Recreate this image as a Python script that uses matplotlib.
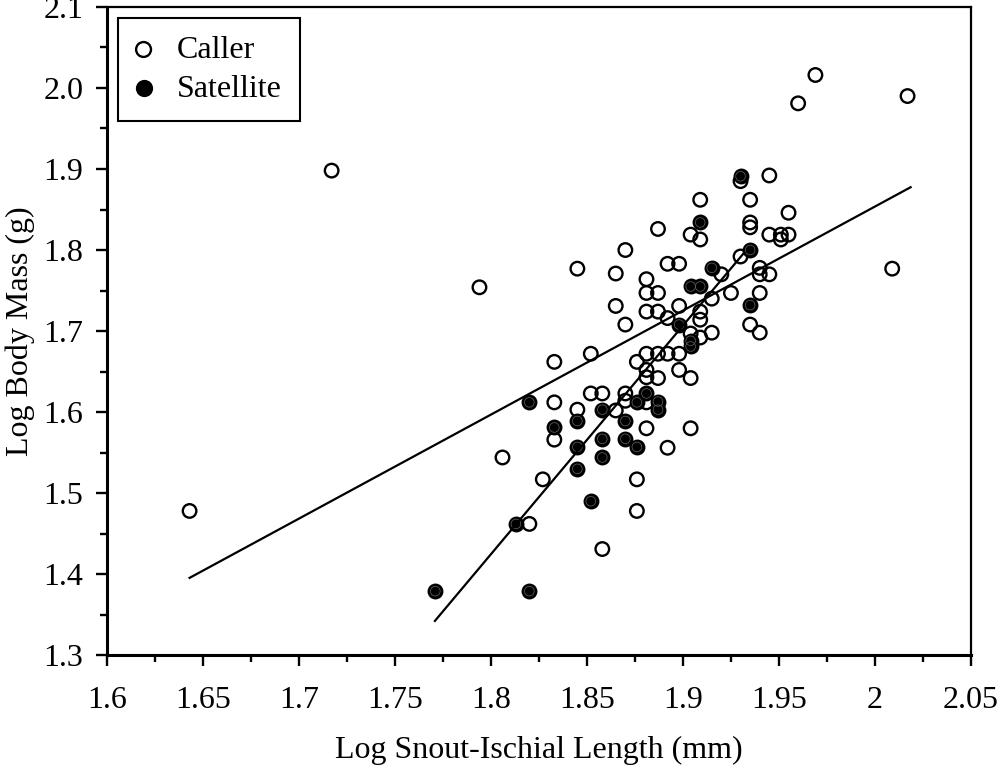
import numpy as np
import matplotlib.pyplot as plt

plt.rcParams['font.family'] = ['Liberation Serif', 'DejaVu Serif']

# Caller (open circles): log SIL (mm), log mass (g)
caller_x = [1.643, 1.717, 1.794, 1.806, 1.820, 1.827, 1.833, 1.833, 1.833, 1.845,
            1.845, 1.852, 1.852, 1.858, 1.858, 1.865, 1.865, 1.865, 1.870, 1.870,
            1.870, 1.870, 1.876, 1.876, 1.876, 1.881, 1.881, 1.881, 1.881, 1.881,
            1.881, 1.881, 1.881, 1.887, 1.887, 1.887, 1.887, 1.887, 1.892, 1.892,
            1.892, 1.892, 1.898, 1.898, 1.898, 1.898, 1.904, 1.904, 1.904, 1.904,
            1.909, 1.909, 1.909, 1.909, 1.909, 1.915, 1.915, 1.920, 1.925, 1.930,
            1.930, 1.935, 1.935, 1.935, 1.935, 1.940, 1.940, 1.940, 1.940, 1.945,
            1.945, 1.945, 1.951, 1.951, 1.955, 1.955, 1.960, 1.969, 2.009, 2.017]
caller_y = [1.478, 1.898, 1.754, 1.544, 1.462, 1.517, 1.662, 1.612, 1.566, 1.777,
            1.603, 1.672, 1.623, 1.623, 1.431, 1.771, 1.731, 1.602, 1.800, 1.708,
            1.623, 1.614, 1.662, 1.517, 1.478, 1.764, 1.747, 1.724, 1.672, 1.652,
            1.643, 1.612, 1.580, 1.826, 1.747, 1.724, 1.672, 1.642, 1.783, 1.716,
            1.672, 1.556, 1.783, 1.731, 1.672, 1.652, 1.819, 1.697, 1.642, 1.580,
            1.862, 1.813, 1.724, 1.714, 1.692, 1.740, 1.698, 1.770, 1.747, 1.885,
            1.792, 1.862, 1.834, 1.828, 1.708, 1.778, 1.770, 1.747, 1.698, 1.892,
            1.819, 1.770, 1.819, 1.813, 1.846, 1.819, 1.981, 2.016, 1.777, 1.990]

# Satellite (filled circles)
sat_x = [1.771, 1.813, 1.820, 1.820, 1.833, 1.845, 1.845, 1.845, 1.852, 1.858,
         1.858, 1.858, 1.870, 1.870, 1.876, 1.876, 1.881, 1.887, 1.887, 1.898,
         1.904, 1.904, 1.904, 1.909, 1.909, 1.915, 1.930, 1.935, 1.935]
sat_y = [1.379, 1.462, 1.612, 1.379, 1.581, 1.589, 1.557, 1.530, 1.490, 1.603,
         1.567, 1.544, 1.589, 1.567, 1.612, 1.557, 1.623, 1.613, 1.603, 1.708,
         1.755, 1.688, 1.681, 1.834, 1.755, 1.778, 1.891, 1.800, 1.732]

# regression lines (end points)
caller_fit_x = [1.643, 2.0186]
caller_fit_y = [1.3954, 1.8775]
sat_fit_x = [1.7708, 1.932]
sat_fit_y = [1.3423, 1.797]

fig = plt.figure(figsize=(10.03, 7.69), dpi=100)
ax = fig.add_axes([0.1067, 0.148, 0.8613, 0.843])

ax.scatter(caller_x, caller_y, s=95, facecolors='none', edgecolors='black',
           linewidths=1.7, zorder=3, label='Caller')
ax.scatter(sat_x, sat_y, s=95, facecolors='black', edgecolors='black',
           linewidths=1.7, zorder=4, label='Satellite')
ax.scatter(sat_x, sat_y, s=48, facecolors='none', edgecolors='#666666',
           linewidths=0.5, zorder=5)

ax.plot(caller_fit_x, caller_fit_y, color='black', lw=1.6, zorder=6)
ax.plot(sat_fit_x, sat_fit_y, color='black', lw=1.6, zorder=6)

ax.set_xlim(1.6, 2.05)
ax.set_ylim(1.3, 2.1)
ax.set_xticks(np.arange(1.6, 2.051, 0.05))
ax.set_xticklabels(['1.6', '1.65', '1.7', '1.75', '1.8', '1.85', '1.9', '1.95', '2', '2.05'])
ax.set_xticks(np.arange(1.625, 2.05, 0.05), minor=True)
ax.set_yticks(np.arange(1.3, 2.101, 0.1))
ax.set_yticklabels(['1.3', '1.4', '1.5', '1.6', '1.7', '1.8', '1.9', '2.0', '2.1'])
ax.set_yticks(np.arange(1.35, 2.1, 0.1), minor=True)

ax.tick_params(which='major', direction='out', length=8, width=1.7, labelsize=23)
ax.tick_params(which='minor', direction='out', length=5, width=1.7)
ax.tick_params(axis='x', which='major', pad=14)
ax.tick_params(axis='y', which='major', pad=9)
for side in ['left', 'bottom']:
    ax.spines[side].set_linewidth(2.2)
for side in ['top', 'right']:
    ax.spines[side].set_linewidth(1.6)

ax.set_xlabel('Log Snout-Ischial Length (mm)', fontsize=23, labelpad=15)
ax.set_ylabel('Log Body Mass (g)', fontsize=23, labelpad=6)

lgd = ax.legend(loc='upper left', bbox_to_anchor=(0.0127, 0.983), fontsize=23,
                frameon=True, fancybox=False, edgecolor='black', framealpha=1,
                borderpad=0.55, handletextpad=0.8, labelspacing=0.3, handlelength=0.5,
                borderaxespad=0.0, markerscale=1.1)
lgd.get_frame().set_linewidth(1.5)

plt.savefig('out.png', dpi=100)
